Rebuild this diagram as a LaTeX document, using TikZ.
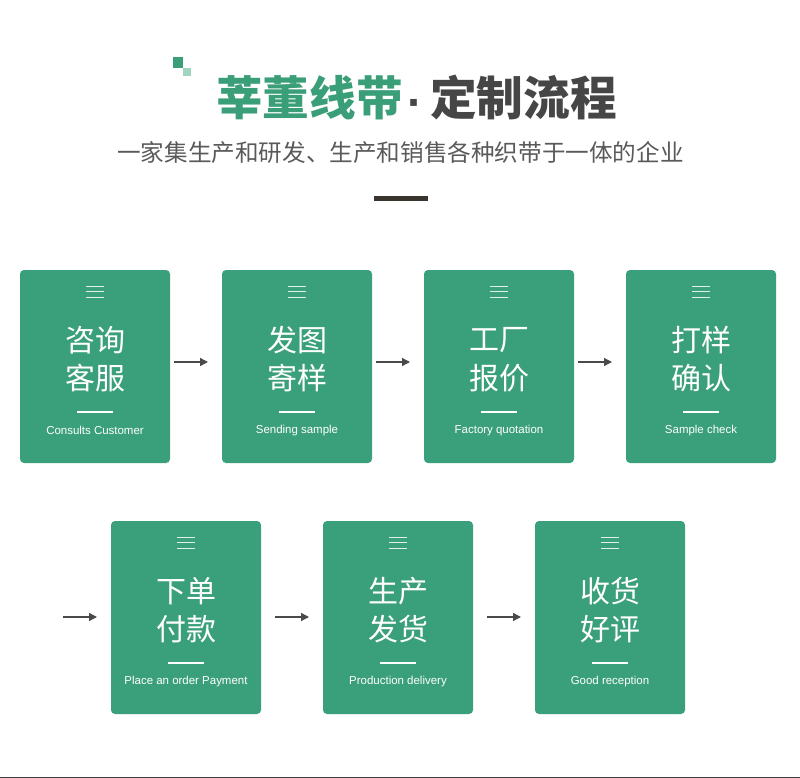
\documentclass[tikz,border=0pt]{standalone}
\usepackage{fontspec}
\newfontfamily\cjk{Noto Sans CJK SC}
\newfontfamily\latin{Liberation Sans}
\usetikzlibrary{arrows.meta}
\definecolor{cardgreen}{RGB}{58,159,123}
\definecolor{titlegreen}{RGB}{58,158,120}
\definecolor{lightgreen}{RGB}{160,213,192}
\definecolor{titlegray}{RGB}{70,70,70}
\definecolor{subgray}{RGB}{90,90,90}
\definecolor{bardark}{RGB}{58,52,46}
\definecolor{arrowgray}{RGB}{74,74,74}
\definecolor{iconline}{RGB}{225,240,234}
\tikzset{
  card/.style={draw=none, fill=cardgreen, rounded corners=3pt},
  cnline/.style={font=\cjk\fontsize{22.5pt}{24pt}\selectfont, text=white, inner sep=0pt},
  ennote/.style={font=\latin\fontsize{8.6pt}{10pt}\selectfont, text=white, inner sep=0pt},
  titlefont/.style={font=\cjk\bfseries\fontsize{35pt}{38pt}\selectfont, inner sep=0pt},
  flow/.style={draw=arrowgray, line width=1pt, -{Triangle[length=6pt,width=6pt]}},
  icon/.style={draw=iconline, line width=0.7pt},
  wbar/.style={draw=white, line width=2.2pt}
}
\begin{document}
\begin{tikzpicture}[x=0.75pt,y=-0.75pt]
\useasboundingbox (0,0) rectangle (800,778);
\fill[white] (0,0) rectangle (800,778);
% header
\fill[titlegreen] (173,57) rectangle (183,68);
\fill[lightgreen] (183,68) rectangle (191,76);
\node[titlefont, anchor=west] (title) at (216,97.5)
  {\textcolor{titlegreen}{莘董线带}\hspace{9.5pt}\makebox[0pt][c]{\raisebox{-2.5pt}{\latin\bfseries\textcolor{titlegray}{·}}}\hspace{11pt}\textcolor{titlegray}{定制流程}};
\node[inner sep=0pt, font=\cjk\fontsize{17.7pt}{20pt}\selectfont, text=subgray] (sub) at (400.5,153)
  {一家集生产和研发、生产和销售各种织带于一体的企业};
\fill[bardark] (374,196) rectangle (428,201);
% cards
\foreach \n/\x/\y/\a/\b/\e in {
  1/20/270/咨询/客服/Consults Customer,
  2/222/270/发图/寄样/Sending sample,
  3/424/270/工厂/报价/Factory quotation,
  4/626/270/打样/确认/Sample check,
  5/111/521/下单/付款/Place an order Payment,
  6/323/521/生产/发货/Production delivery,
  7/535/521/收货/好评/Good reception}{
  \fill[card] (\x,\y) rectangle ++(150,193);
  \draw[icon] (\x+66,\y+16) -- (\x+84,\y+16);
  \draw[icon] (\x+66,\y+21.5) -- (\x+84,\y+21.5);
  \draw[icon] (\x+66,\y+27) -- (\x+84,\y+27);
  \node[cnline] (t\n) at (\x+75,\y+70) {\a};
  \node[cnline] (u\n) at (\x+75,\y+108) {\b};
  \draw[wbar] (\x+57,\y+142) -- (\x+93,\y+142);
  \node[ennote] (e\n) at (\x+75,\y+160.5) {\e};
}
% arrows row 1
\coordinate (a1s) at (174,362); \coordinate (a1e) at (208,362);
\coordinate (a2s) at (376,362); \coordinate (a2e) at (410,362);
\coordinate (a3s) at (578,362); \coordinate (a3e) at (612,362);
\draw[flow] (a1s) -- (a1e);
\draw[flow] (a2s) -- (a2e);
\draw[flow] (a3s) -- (a3e);
% arrows row 2
\coordinate (b0s) at (63,617); \coordinate (b0e) at (97,617);
\coordinate (b1s) at (275,617); \coordinate (b1e) at (309,617);
\coordinate (b2s) at (487,617); \coordinate (b2e) at (521,617);
\draw[flow] (b0s) -- (b0e);
\draw[flow] (b1s) -- (b1e);
\draw[flow] (b2s) -- (b2e);
% bottom rule
\fill[titlegray!90!black] (0,776.5) rectangle (800,778);
\end{tikzpicture}
\end{document}
